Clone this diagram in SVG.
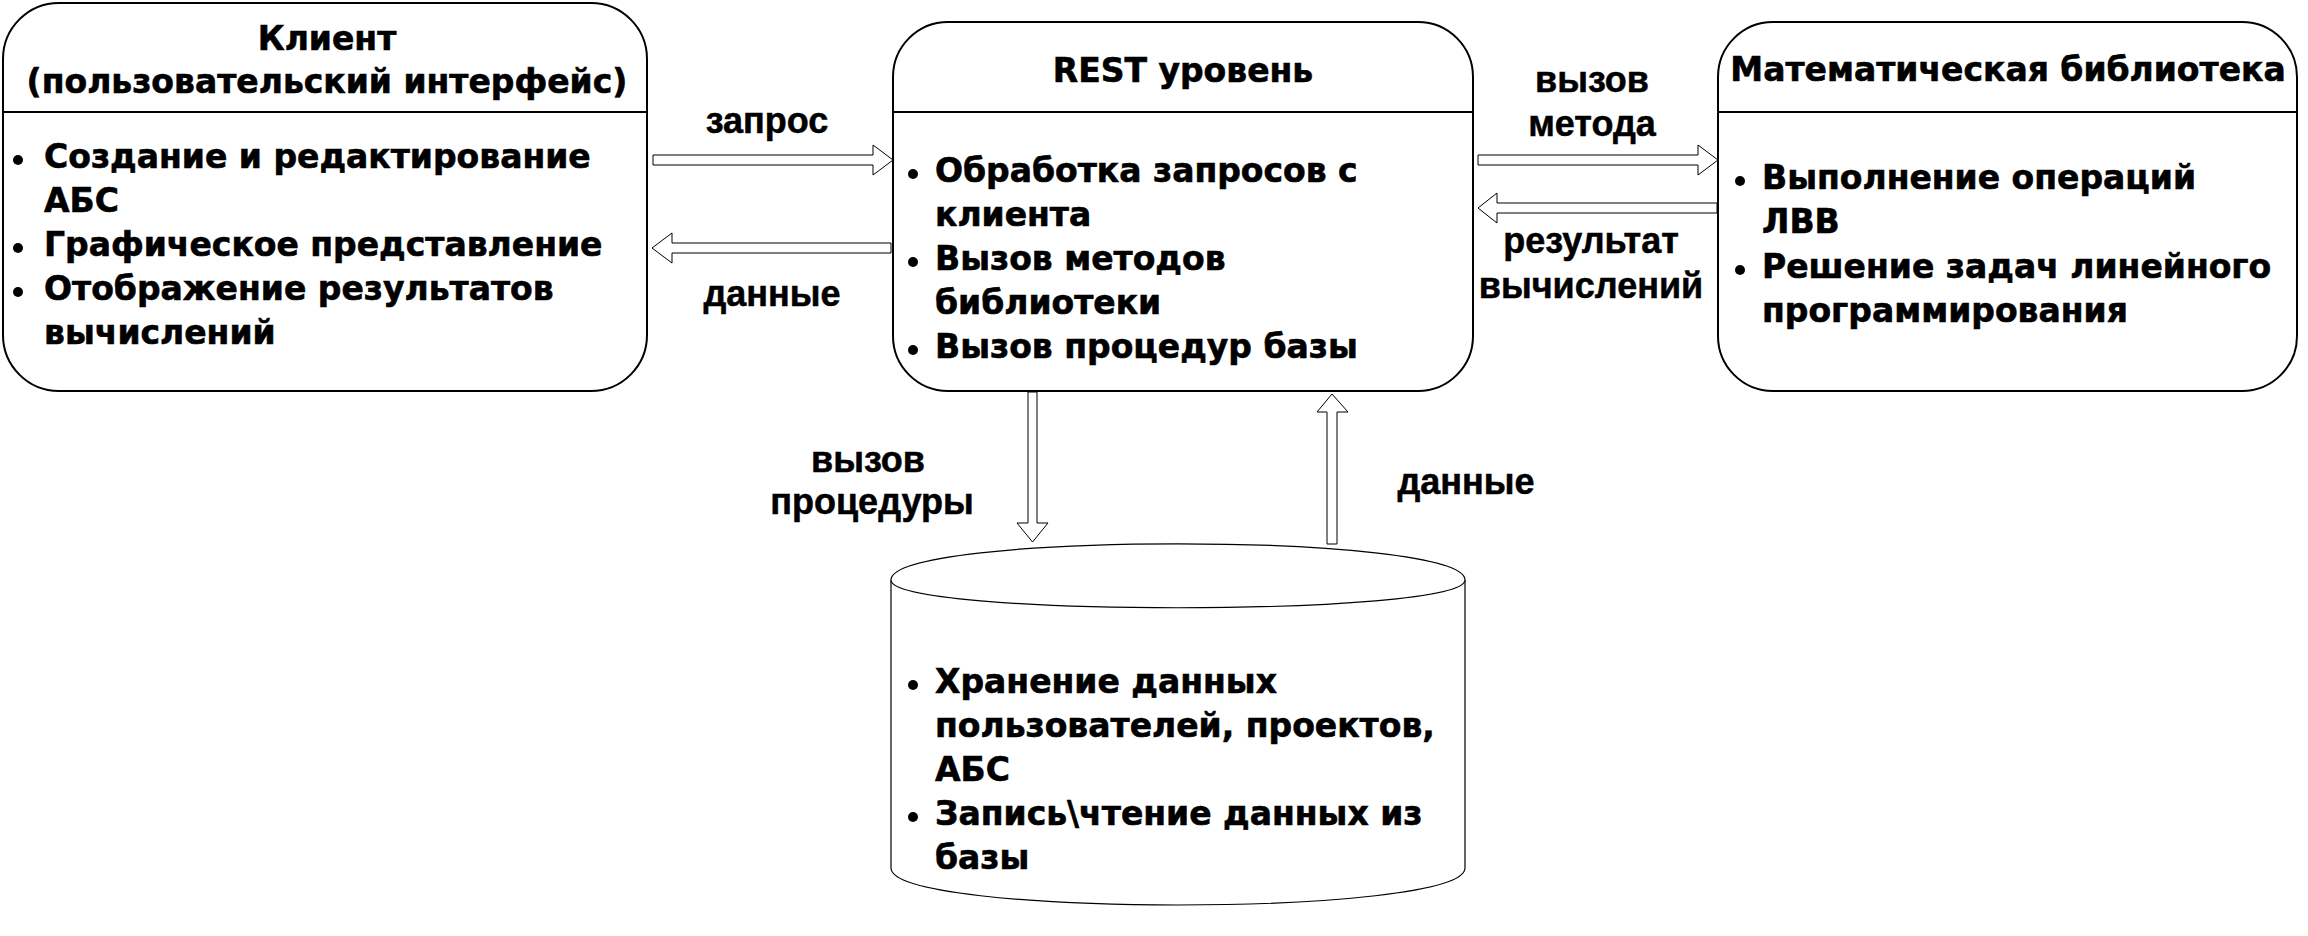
<svg xmlns="http://www.w3.org/2000/svg" width="2308" height="936" viewBox="0 0 2308 936">
<style>
.box{fill:#fff;stroke:#000;stroke-width:2}
.div{stroke:#000;stroke-width:2}
.t{font-family:'DejaVu Sans',Verdana,sans-serif;font-weight:bold;font-size:33px;fill:#000;stroke:#000;stroke-width:0.6}
.c{text-anchor:middle}
.lbl{font-family:'Liberation Sans',Arial,sans-serif;font-weight:bold;font-size:36px;fill:#000;stroke:#000;stroke-width:0.5;text-anchor:middle}
.arr{fill:#fff;stroke:#000;stroke-width:1}
.cyl{fill:#fff;stroke:#000;stroke-width:1.2}
.b{fill:#000}
</style>
<rect width="2308" height="936" fill="#fff"/>
<g id="client">
<rect class="box" x="3" y="3" width="644" height="388" rx="56" ry="56"/>
<line class="div" x1="3" y1="112" x2="647" y2="112"/>
<text class="t c" x="327" y="50">Клиент</text>
<text class="t c" x="327" y="93">(пользовательский интерфейс)</text>
<circle class="b" cx="18" cy="160" r="5"/>
<circle class="b" cx="18" cy="248" r="5"/>
<circle class="b" cx="18" cy="292" r="5"/>
<text class="t" x="44" y="168">Создание и редактирование</text>
<text class="t" x="44" y="212">АБС</text>
<text class="t" x="44" y="256">Графическое представление</text>
<text class="t" x="44" y="300">Отображение результатов</text>
<text class="t" x="44" y="344">вычислений</text>
</g>
<g id="rest">
<rect class="box" x="893" y="22" width="580" height="369" rx="55" ry="55"/>
<line class="div" x1="893" y1="112" x2="1473" y2="112"/>
<text class="t c" x="1183" y="82">REST уровень</text>
<circle class="b" cx="913" cy="174" r="5"/>
<circle class="b" cx="913" cy="262" r="5"/>
<circle class="b" cx="913" cy="350" r="5"/>
<text class="t" x="935" y="182">Обработка запросов с</text>
<text class="t" x="935" y="226">клиента</text>
<text class="t" x="935" y="270">Вызов методов</text>
<text class="t" x="935" y="314">библиотеки</text>
<text class="t" x="935" y="358">Вызов процедур базы</text>
</g>
<g id="mathlib">
<rect class="box" x="1718" y="22" width="579" height="369" rx="55" ry="55"/>
<line class="div" x1="1718" y1="112" x2="2297" y2="112"/>
<text class="t c" x="2008" y="81">Математическая библиотека</text>
<circle class="b" cx="1740" cy="181" r="5"/>
<circle class="b" cx="1740" cy="270" r="5"/>
<text class="t" x="1762" y="189">Выполнение операций</text>
<text class="t" x="1762" y="233">ЛВВ</text>
<text class="t" x="1762" y="278">Решение задач линейного</text>
<text class="t" x="1762" y="322">программирования</text>
</g>
<g id="database">
<path class="cyl" d="M891,580 C891,531.7 1465,531.7 1465,580 L1465,868 C1465,917.3 891,917.3 891,868 Z"/>
<path class="cyl" fill="none" d="M891,580 C891,617 1465,617 1465,580"/>
<circle class="b" cx="913" cy="685" r="5"/>
<circle class="b" cx="913" cy="817" r="5"/>
<text class="t" x="935" y="693">Хранение данных</text>
<text class="t" x="935" y="737">пользователей, проектов,</text>
<text class="t" x="935" y="781">АБС</text>
<text class="t" x="935" y="825">Запись\чтение данных из</text>
<text class="t" x="935" y="869">базы</text>
</g>
<g id="connectors">
<polygon class="arr" points="653,155 873,155 873,145 893,160 873,175 873,165 653,165"/>
<polygon class="arr" points="891,243 672,243 672,233 652,248 672,263 672,253 891,253"/>
<polygon class="arr" points="1478,155 1698,155 1698,145 1718,160 1698,175 1698,165 1478,165"/>
<polygon class="arr" points="1717,203 1497,203 1497,193 1478,208 1497,223 1497,213 1717,213"/>
<polygon class="arr" points="1028,392 1037,392 1037,523 1048,523 1032.5,542 1017,523 1028,523"/>
<polygon class="arr" points="1327,544 1327,412 1317,412 1332,394 1348,412 1337,412 1337,544"/>
<text class="lbl" x="767" y="133">запрос</text>
<text class="lbl" x="772" y="306">данные</text>
<text class="lbl" x="1592" y="92">вызов</text>
<text class="lbl" x="1592" y="136">метода</text>
<text class="lbl" x="1591" y="253">результат</text>
<text class="lbl" x="1591" y="298">вычислений</text>
<text class="lbl" x="868" y="472">вызов</text>
<text class="lbl" x="872" y="514">процедуры</text>
<text class="lbl" x="1466" y="494">данные</text>
</g>
</svg>
